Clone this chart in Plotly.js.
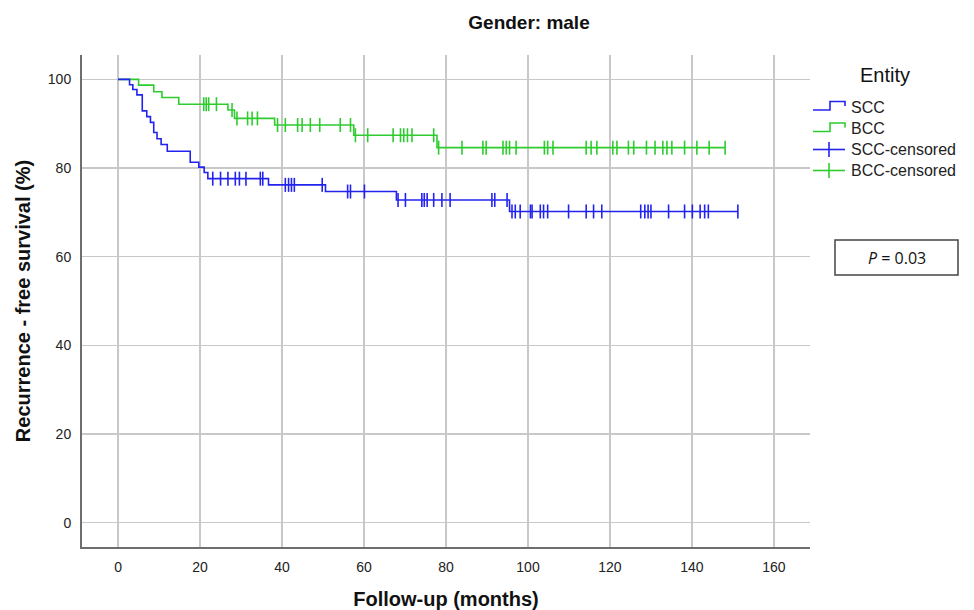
<!DOCTYPE html>
<html>
<head>
<meta charset="utf-8">
<script src="https://cdn.plot.ly/plotly-3.0.1.min.js"></script>
<style>
html,body{margin:0;padding:0;background:#fff;}
#chart{width:974px;height:610px;}
</style>
</head>
<body>
<div id="chart"></div>
<script>
// ---- Data ----
// SCC: event times (months) and survival (%) after each step
const sccTime = [0, 2.8, 3.6, 4.6, 5.9, 7.0, 7.9, 8.7, 9.5, 10.5, 12.0, 17.6, 19.7, 21.0, 21.9, 36.7, 50.6, 67.9, 95.5];
const sccSurv = [100, 98.8, 97.7, 96.5, 92.9, 91.6, 90.3, 88.0, 86.6, 85.3, 83.8, 81.3, 80.2, 79.0, 77.6, 76.2, 74.7, 72.8, 70.2];
const sccLastFollowUp = 151.2;
const sccCensored = [23.1, 25.0, 26.8, 28.6, 29.6, 31.2, 34.7, 35.3, 40.8, 41.6, 42.3, 43.0, 49.8,
  56.0, 56.7, 60.1, 68.3, 70.1, 74.1, 74.7, 75.4, 77.0, 79.0, 81.0, 91.2, 91.9, 94.9,
  96.1, 96.9, 98.1, 100.6, 101.0, 103.0, 103.8, 104.8, 109.9, 114.2, 116.0, 118.0,
  127.5, 128.5, 129.3, 130.0, 134.3, 138.2, 140.1, 142.0, 143.1, 144.0, 151.2];

// BCC
const bccTime = [0, 5.0, 8.7, 10.7, 14.8, 26.8, 28.4, 38.2, 57.5, 77.8];
const bccSurv = [100, 98.7, 97.2, 95.9, 94.4, 93.1, 91.2, 89.7, 87.4, 84.6];
const bccLastFollowUp = 148.1;
const bccCensored = [20.9, 21.5, 22.1, 24.0, 27.8, 29.0, 31.6, 32.7, 34.0, 38.9, 40.8, 43.8, 44.9,
  46.9, 49.2, 54.2, 56.7, 57.9, 60.9, 67.1, 68.9, 69.7, 70.6, 71.7, 77.0, 78.2, 83.9,
  89.0, 89.8, 93.9, 94.7, 95.5, 97.1, 104.0, 104.8, 106.1, 114.2, 115.4, 116.8, 120.7,
  121.7, 124.5, 125.8, 128.9, 131.0, 132.9, 133.9, 135.1, 138.2, 141.2, 144.2, 148.1];

const seriesNames = ['SCC', 'BCC', 'SCC-censored', 'BCC-censored'];
const xTicks = [0, 20, 40, 60, 80, 100, 120, 140, 160];
const yTicks = [0, 20, 40, 60, 80, 100];
const pText = '<i>P</i> = 0.03';

// ---- Styling ----
const BLUE = '#2323f0';
const GREEN = '#2ecc2e';
const FONT = 'Liberation Sans, Arial, sans-serif';

function survAt(times, surv, t) {
  let v = surv[0];
  for (let i = 0; i < times.length; i++) { if (times[i] <= t) v = surv[i]; }
  return v;
}

function stepTrace(times, surv, last, color) {
  return {
    x: times.concat([last]),
    y: surv.concat([surv[surv.length - 1]]),
    type: 'scatter', mode: 'lines',
    line: {shape: 'hv', color: color, width: 1.6},
    showlegend: false, hoverinfo: 'skip'
  };
}
function censorTrace(censored, times, surv, color) {
  return {
    x: censored,
    y: censored.map(t => survAt(times, surv, t)),
    type: 'scatter', mode: 'markers',
    marker: {symbol: 'line-ns', size: 10, color: color, line: {color: color, width: 1.6}},
    showlegend: false, hoverinfo: 'skip'
  };
}

const traces = [
  stepTrace(bccTime, bccSurv, bccLastFollowUp, GREEN),
  stepTrace(sccTime, sccSurv, sccLastFollowUp, BLUE),
  censorTrace(bccCensored, bccTime, bccSurv, GREEN),
  censorTrace(sccCensored, sccTime, sccSurv, BLUE)
];

// plot area in pixels
const W = 974, H = 610;
const L = 82, R = 810, T = 55, B = 547;
const px = x => (x - L) / (R - L);
const py = y => (B - y) / (B - T);

// custom legend (SPSS style)
const shapes = [];
const annotations = [];
const legendColors = [BLUE, GREEN, BLUE, GREEN];
const rowY = [107, 128.5, 149.5, 170.5];
for (let i = 0; i < 4; i++) {
  const c = legendColors[i];
  const y = rowY[i];
  if (i < 2) {
    shapes.push({type: 'path', xref: 'paper', yref: 'paper',
      path: `M ${px(813)} ${py(y + 3)} L ${px(830)} ${py(y + 3)} L ${px(830)} ${py(y - 5.5)} L ${px(845)} ${py(y - 5.5)} L ${px(845)} ${py(y - 1)}`,
      line: {color: c, width: 1.6}});
  } else {
    shapes.push({type: 'line', xref: 'paper', yref: 'paper',
      x0: px(813), x1: px(845), y0: py(y), y1: py(y), line: {color: c, width: 1.6}});
    shapes.push({type: 'line', xref: 'paper', yref: 'paper',
      x0: px(829), x1: px(829), y0: py(y - 7.5), y1: py(y + 7.5), line: {color: c, width: 1.6}});
  }
  annotations.push({xref: 'paper', yref: 'paper', x: px(849), y: py(y), xanchor: 'left', yanchor: 'middle',
    text: seriesNames[i], showarrow: false, font: {family: FONT, size: 16, color: '#222'}});
}
annotations.push({xref: 'paper', yref: 'paper', x: px(885), y: py(75), xanchor: 'center', yanchor: 'middle',
  text: 'Entity', showarrow: false, font: {family: FONT, size: 20, color: '#111'}});

// P-value box
shapes.push({type: 'rect', xref: 'paper', yref: 'paper', x0: px(835), x1: px(958), y0: py(240), y1: py(275),
  line: {color: '#444', width: 1.5}, fillcolor: 'rgba(0,0,0,0)'});
annotations.push({xref: 'paper', yref: 'paper', x: px(896.5), y: py(258), xanchor: 'center', yanchor: 'middle',
  text: pText, showarrow: false, font: {family: 'Open Sans, ' + FONT, size: 16, color: '#111'}});

const layout = {
  width: W, height: H,
  margin: {l: L, r: W - R, t: T, b: H - B, pad: 0},
  paper_bgcolor: '#fff', plot_bgcolor: '#fff',
  title: {text: 'Gender: male', x: 529 / W, xanchor: 'center', xref: 'container',
    y: 1 - 22 / H, yanchor: 'middle', yref: 'container',
    font: {family: FONT, size: 19, weight: 'bold', color: '#111'}},
  xaxis: {
    range: [-8.8, 168.8], tickvals: xTicks, ticktext: xTicks.map(String),
    showgrid: true, gridcolor: '#c8c8c8', gridwidth: 1.5, zeroline: false,
    showline: true, linecolor: '#6e6e6e', linewidth: 2, ticks: '',
    ticklabelstandoff: 6,
    tickfont: {family: FONT, size: 14, color: '#222'},
    title: {text: 'Follow-up (months)', standoff: 26, font: {family: FONT, size: 20, weight: 'bold', color: '#111'}},
    automargin: false
  },
  yaxis: {
    range: [-5.5, 105.5], tickvals: yTicks, ticktext: yTicks.map(String),
    showgrid: true, gridcolor: '#c8c8c8', gridwidth: 1.5, zeroline: false,
    showline: true, linecolor: '#6e6e6e', linewidth: 2, ticks: '',
    ticklabelstandoff: 6,
    tickfont: {family: FONT, size: 14, color: '#222'},
    title: {text: 'Recurrence - free survival (%)', standoff: 12, font: {family: FONT, size: 20, weight: 'bold', color: '#111'}},
    automargin: false
  },
  shapes: shapes,
  annotations: annotations,
  showlegend: false
};

Plotly.newPlot('chart', traces, layout, {displayModeBar: false, staticPlot: true});
</script>
</body>
</html>
